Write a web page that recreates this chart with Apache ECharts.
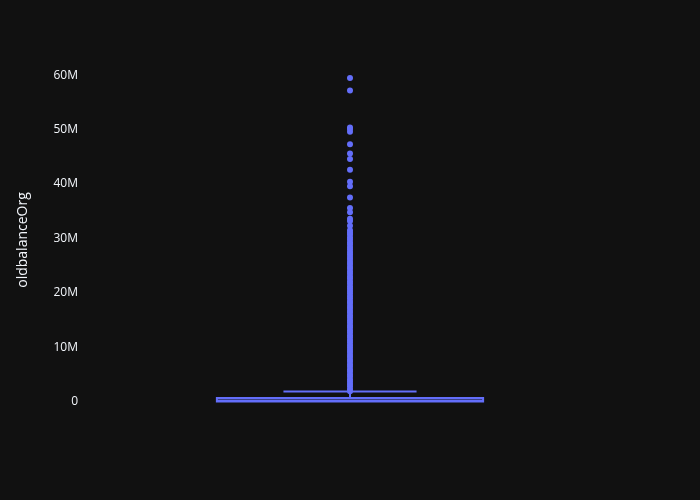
<!DOCTYPE html>
<html>
<head>
<meta charset="utf-8">
<script src="https://cdn.jsdelivr.net/npm/echarts@6/dist/echarts.min.js"></script>
<style>html,body{margin:0;padding:0;background:#111111;}#c{width:700px;height:500px;}</style>
</head>
<body>
<div id="c"></div>
<script>
// Data (values in millions)
const categories = ['oldbalanceOrg'];
const boxStats = [0, 0, 0.1, 0.64, 1.85]; // lowerWhisker, Q1, median, Q3, upperWhisker
const outliers = [
  1.9, 2.3, 2.8, 3.2, 3.7, 4.1, 4.6, 5.0, 5.5, 5.9, 6.4, 6.8, 7.3, 7.7, 8.2, 8.6,
  9.1, 9.5, 10.0, 10.4, 10.9, 11.3, 11.8, 12.2, 12.7, 13.1, 13.6, 14.0, 14.5, 14.9,
  15.4, 15.8, 16.3, 16.7, 17.2, 17.6, 18.1, 18.5, 19.0, 19.4, 19.9, 20.3, 20.8,
  21.2, 21.7, 22.1, 22.6, 23.0, 23.5, 23.9, 24.4, 24.8, 25.3, 25.7, 26.2, 26.6,
  27.1, 27.5, 28.0, 28.4, 28.9, 29.3, 29.8, 30.2, 30.7, 31.1, 31.5,
  32.3, 33.2, 33.6, 34.8, 35.6, 37.5, 39.6, 40.4, 42.6, 44.6, 45.6, 47.3,
  49.6, 50.1, 50.4, 57.2, 59.5
];
const yTicks = [0, 10, 20, 30, 40, 50, 60];
const M = 1e6;

const chart = echarts.init(document.getElementById('c'), null, {renderer: 'canvas'});
const color = '#636efa';
chart.setOption({
  backgroundColor: '#111111',
  animation: false,
  textStyle: {fontFamily: '"Open Sans", verdana, arial, sans-serif'},
  grid: {left: 80, right: 80, top: 60, bottom: 80, containLabel: false},
  xAxis: {
    type: 'category', data: categories, boundaryGap: true,
    axisLine: {show: false}, axisTick: {show: false}, axisLabel: {show: false}, splitLine: {show: false}
  },
  yAxis: {
    type: 'value', min: -3.4 * M, max: 62.8 * M,
    name: 'oldbalanceOrg', nameLocation: 'middle', nameRotate: 90, nameGap: 50,
    nameTextStyle: {color: '#f2f5fa', fontSize: 14, fontFamily: '"Open Sans", verdana, arial, sans-serif'},
    axisLine: {show: false}, axisTick: {show: false}, splitLine: {show: false},
    axisLabel: {
      color: '#f2f5fa', fontSize: 12, margin: 2,
      customValues: yTicks.map(v => v * M),
      formatter: v => v === 0 ? '0' : Math.round(v / M) + 'M'
    }
  },
  series: [
    {
      type: 'custom',
      data: [[0].concat(boxStats.map(v => v * M))],
      encode: {x: 0, y: [1, 2, 3, 4, 5]},
      renderItem: function (params, api) {
        const idx = api.value(0);
        const band = api.size([1, 0])[0];
        const bw = band * 0.493;
        const cx = api.coord([idx, 0])[0];
        const yLo = api.coord([idx, api.value(1)])[1];
        const yQ1 = api.coord([idx, api.value(2)])[1];
        const yMed = api.coord([idx, api.value(3)])[1];
        const yQ3 = api.coord([idx, api.value(4)])[1];
        const yHi = api.coord([idx, api.value(5)])[1];
        const ls = {stroke: color, lineWidth: 2};
        const children = [
          {type: 'rect', shape: {x: cx - bw / 2, y: yQ3, width: bw, height: yQ1 - yQ3},
           style: {fill: 'rgba(99,110,250,0.5)', stroke: color, lineWidth: 2}},
          {type: 'line', shape: {x1: cx - bw / 2, y1: yMed, x2: cx + bw / 2, y2: yMed}, style: ls},
          {type: 'line', shape: {x1: cx, y1: yQ3, x2: cx, y2: yHi}, style: ls},
          {type: 'line', shape: {x1: cx - bw / 4, y1: yHi, x2: cx + bw / 4, y2: yHi}, style: ls}
        ];
        if (Math.abs(yLo - yQ1) > 0.5) {
          children.push({type: 'line', shape: {x1: cx, y1: yQ1, x2: cx, y2: yLo}, style: ls});
          children.push({type: 'line', shape: {x1: cx - bw / 4, y1: yLo, x2: cx + bw / 4, y2: yLo}, style: ls});
        }
        return {type: 'group', children: children};
      },
      z: 2
    },
    {
      type: 'scatter',
      data: outliers.map(v => [0, v * M]),
      symbolSize: 6,
      itemStyle: {color: color, opacity: 1},
      z: 3
    }
  ]
});
</script>
</body>
</html>
